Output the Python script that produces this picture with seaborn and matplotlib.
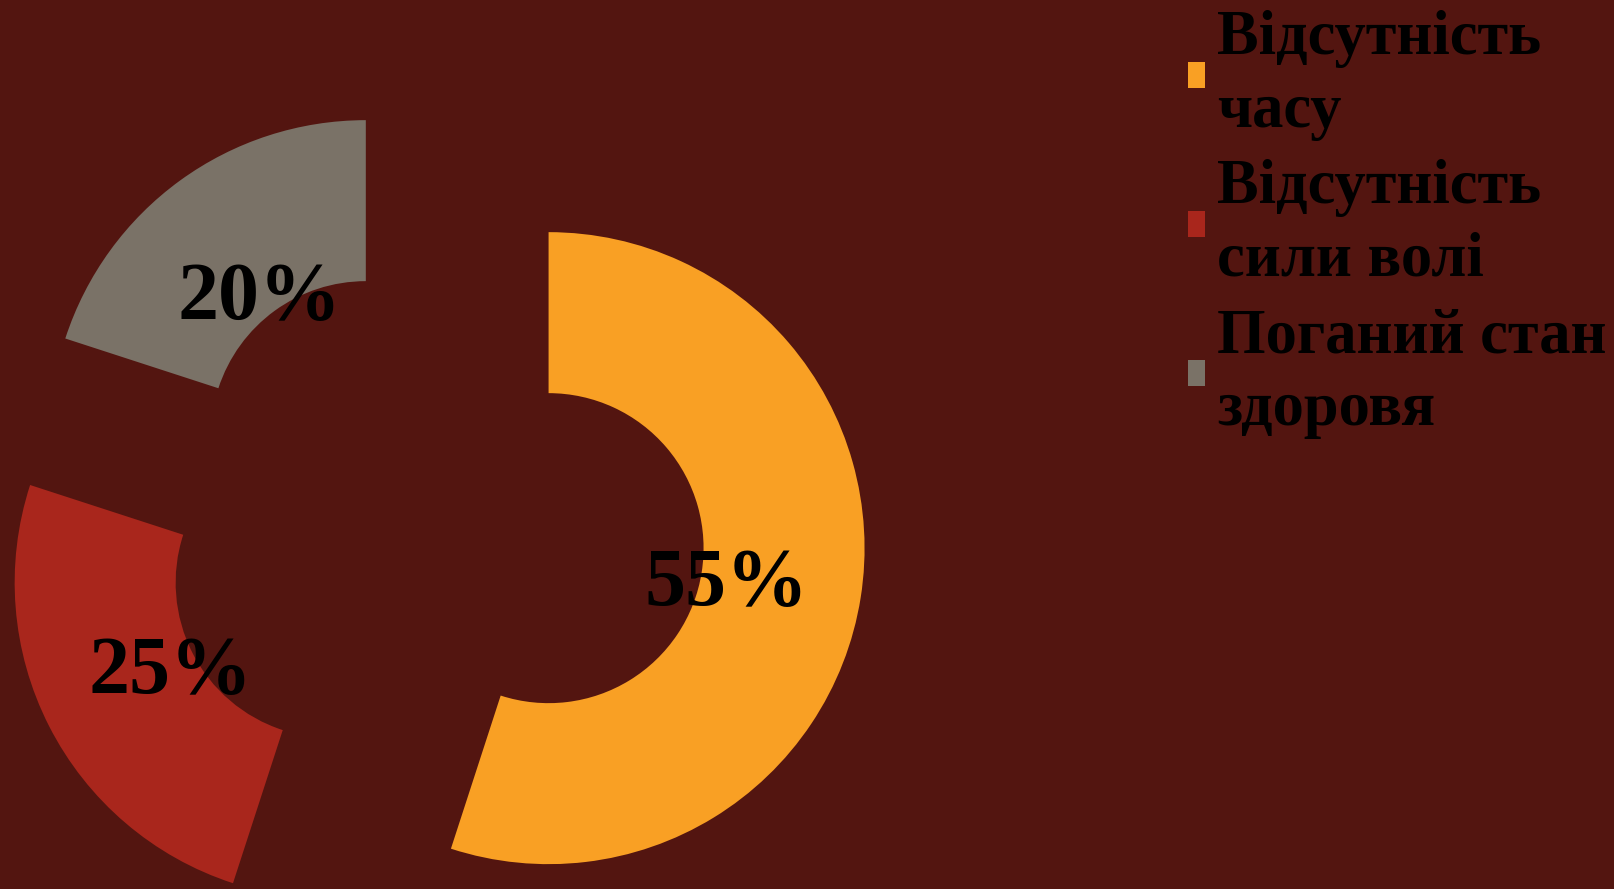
import matplotlib
matplotlib.use("Agg")
import matplotlib.pyplot as plt
import seaborn as sns

categories = ["Відсутність\nчасу", "Відсутність\nсили волі", "Поганий стан\nздоровя"]
values = [55, 25, 20]
colors = ["#F9A024", "#A9261C", "#7A7267"]
bg = "#531510"

sns.set_theme(style="white", rc={"figure.facecolor": bg, "axes.facecolor": bg})
plt.rcParams["font.family"] = ["Liberation Serif", "DejaVu Serif"]

fig = plt.figure(figsize=(16.14, 8.89), dpi=100)
ax = fig.add_axes([0, 0, 1, 1])
ax.set_facecolor(bg)

R = 316
wedges, texts, autotexts = ax.pie(
    values, colors=colors, radius=R, center=(434, 359),
    startangle=90, counterclock=False, explode=[116] * 3,
    autopct="%1.0f%%", pctdistance=0.57,
    wedgeprops=dict(width=161, linewidth=0),
    textprops=dict(fontsize=59, fontweight="bold", color="black"),
)
for t in autotexts:
    t.set_verticalalignment("center_baseline")

ax.set_xlim(0, 1614)
ax.set_ylim(0, 889)
ax.set_aspect("equal")
ax.axis("off")

leg = ax.legend(wedges, categories, loc="upper left",
                bbox_to_anchor=(1188 / 1614, 1 - 10 / 889),
                bbox_transform=fig.transFigure,
                frameon=False, borderpad=0, borderaxespad=0,
                handlelength=0.27, handleheight=0.27, handletextpad=0.2,
                labelspacing=0.3,
                prop=dict(family="Liberation Serif", weight="bold", size=45))
for t in leg.get_texts():
    t.set_color("black")
    t.set_linespacing(1.33)

fig.savefig("out.png", dpi=100, facecolor=bg)
